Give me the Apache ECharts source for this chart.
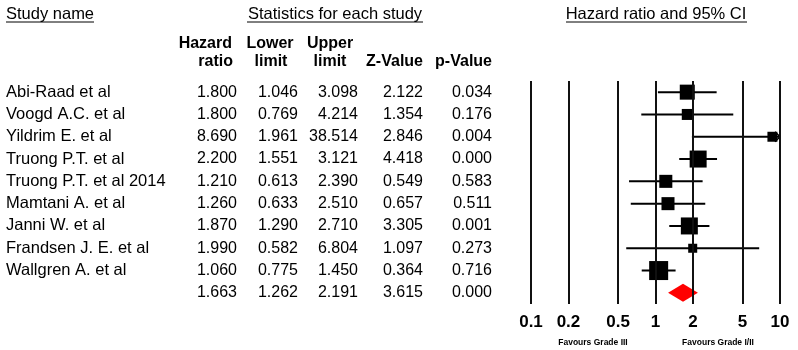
<!DOCTYPE html>
<html>
<head>
<meta charset="utf-8">
<script src="https://cdn.jsdelivr.net/npm/echarts@6/dist/echarts.min.js"></script>
<style>
html,body{margin:0;padding:0;background:#fff;}
#chart{width:798px;height:350px;}
</style>
</head>
<body>
<div id="chart"></div>
<script>
// rows: 9 studies + pooled (last, no name)
var studies = ['Abi-Raad et al', 'Voogd A.C. et al', 'Yildrim E. et al', 'Truong P.T. et al', 'Truong P.T. et al 2014',
  'Mamtani A. et al', 'Janni W. et al', 'Frandsen J. E. et al', 'Wallgren A. et al', ''];
var hazardRatio = [1.800, 1.800, 8.690, 2.200, 1.210, 1.260, 1.870, 1.990, 1.060, 1.663];
var lowerLimit  = [1.046, 0.769, 1.961, 1.551, 0.613, 0.633, 1.290, 0.582, 0.775, 1.262];
var upperLimit  = [3.098, 4.214, 38.514, 3.121, 2.390, 2.510, 2.710, 6.804, 1.450, 2.191];
var zValue      = [2.122, 1.354, 2.846, 4.418, 0.549, 0.657, 3.305, 1.097, 0.364, 3.615];
var pValue      = [0.034, 0.176, 0.004, 0.000, 0.583, 0.511, 0.001, 0.273, 0.716, 0.000];
// relative weight (%) of each study
var relWeight   = [12.5, 6.7, 5.5, 16.0, 9.4, 9.4, 16.0, 4.5, 20.0];
var axisTicks   = [0.1, 0.2, 0.5, 1, 2, 5, 10];

var FONT = '"Liberation Sans", Arial, sans-serif';
var POOLED = studies.length - 1;
var lg = function (v) { return Math.log10(v); };

// table columns, right edge of each
var columns = [
  { vals: hazardRatio, x: 237 },
  { vals: lowerLimit,  x: 298 },
  { vals: upperLimit,  x: 358 },
  { vals: zValue,      x: 423 },
  { vals: pValue,      x: 492 }
];

var chart = echarts.init(document.getElementById('chart'));

function headText(t, x, y, align, bold, size) {
  return {
    type: 'text', x: x, y: y, silent: true,
    style: {
      text: t, align: align, verticalAlign: 'middle', fill: '#000',
      fontFamily: FONT, fontSize: size || 16.5, fontWeight: bold ? 'bold' : 'normal'
    }
  };
}
function underline(x1, x2, y) {
  return { type: 'line', silent: true, shape: { x1: x1, y1: y, x2: x2, y2: y }, style: { stroke: '#000', lineWidth: 1 } };
}

var option = {
  animation: false,
  backgroundColor: '#fff',
  grid: { left: 531, right: 18, top: 81, bottom: 46 },
  xAxis: {
    type: 'value', min: -1, max: 1,
    axisLine: { show: false }, axisTick: { show: false }, splitLine: { show: false },
    axisLabel: {
      customValues: axisTicks.map(lg),
      margin: 10,
      color: '#000', fontFamily: FONT, fontSize: 17, fontWeight: 'bold',
      formatter: function (v) { return String(Number(Math.pow(10, v).toPrecision(2))); }
    }
  },
  yAxis: {
    type: 'category', inverse: true, data: studies,
    axisLine: { show: false }, axisTick: { show: false }, splitLine: { show: false },
    axisLabel: { align: 'left', margin: 525, color: '#000', fontFamily: FONT, fontSize: 16.5, interval: 0 }
  },
  graphic: [
    headText('Study name', 6, 14, 'left'),
    underline(6, 94, 22),
    headText('Statistics for each study', 335, 14, 'center'),
    underline(247, 423, 22),
    headText('Hazard ratio and 95% CI', 656, 14, 'center'),
    underline(566, 747, 22),
    headText('Hazard', 232, 44, 'right', true, 16),
    headText('ratio', 233, 62, 'right', true, 16),
    headText('Lower', 270, 44, 'center', true, 16),
    headText('limit', 271, 62, 'center', true, 16),
    headText('Upper', 330, 44, 'center', true, 16),
    headText('limit', 330, 62, 'center', true, 16),
    headText('Z-Value', 423, 62, 'right', true, 16),
    headText('p-Value', 492, 62, 'right', true, 16),
    headText('Favours Grade III', 593, 343, 'center', true, 8.5),
    headText('Favours Grade I/II', 718, 343, 'center', true, 8.5)
  ],
  series: [
    {
      // numeric table
      type: 'custom', z: 1,
      data: studies.map(function (s, i) { return [0, i]; }),
      renderItem: function (params, api) {
        var i = params.dataIndex;
        var y = api.coord([0, i])[1];
        return {
          type: 'group',
          children: columns.map(function (c) {
            return {
              type: 'text', x: c.x, y: y,
              style: { text: c.vals[i].toFixed(3), align: 'right', verticalAlign: 'middle',
                fill: '#000', fontFamily: FONT, fontSize: 16 }
            };
          })
        };
      }
    },
    {
      // confidence intervals + reference lines
      type: 'custom', z: 2,
      data: studies.slice(0, POOLED).map(function (s, i) { return [lg(hazardRatio[i]), i]; }),
      renderItem: function (params, api) {
        var i = params.dataIndex;
        var hi = lg(upperLimit[i]);
        var clipped = hi > 1;
        var p1 = api.coord([lg(lowerLimit[i]), i]);
        var p2 = api.coord([clipped ? 1 : hi, i]);
        var kids = [{
          type: 'line', shape: { x1: p1[0], y1: p1[1], x2: p2[0], y2: p2[1] },
          style: { stroke: '#000', lineWidth: 2 }
        }];
        if (clipped) {
          kids.push({
            type: 'polyline',
            shape: { points: [[p2[0] - 5, p2[1] - 5], [p2[0], p2[1]], [p2[0] - 5, p2[1] + 5]] },
            style: { stroke: '#000', lineWidth: 1.5, fill: 'none' }
          });
        }
        return { type: 'group', children: kids };
      },
      markLine: {
        silent: true, symbol: ['none', 'none'],
        label: { show: false },
        lineStyle: { color: '#111', width: 2, type: 'solid' },
        data: axisTicks.map(function (t) { return { xAxis: lg(t) }; })
      }
    },
    {
      // study boxes
      type: 'scatter', z: 3, symbol: 'rect',
      data: studies.slice(0, POOLED).map(function (s, i) { return [lg(hazardRatio[i]), i]; }),
      symbolSize: function (v, params) { return Math.sqrt(relWeight[params.dataIndex]) * 4.25; },
      itemStyle: { color: '#000', opacity: 1 }
    },
    {
      // pooled estimate diamond
      type: 'custom', z: 3,
      data: [[lg(hazardRatio[POOLED]), POOLED]],
      renderItem: function (params, api) {
        var c = api.coord([lg(hazardRatio[POOLED]), POOLED]);
        var l = api.coord([lg(lowerLimit[POOLED]), POOLED]);
        var u = api.coord([lg(upperLimit[POOLED]), POOLED]);
        var h = 9;
        return {
          type: 'polygon',
          shape: { points: [[l[0], c[1]], [c[0], c[1] - h], [u[0], c[1]], [c[0], c[1] + h]] },
          style: { fill: '#ff0000' }
        };
      }
    }
  ]
};
chart.setOption(option);
</script>
</body>
</html>
